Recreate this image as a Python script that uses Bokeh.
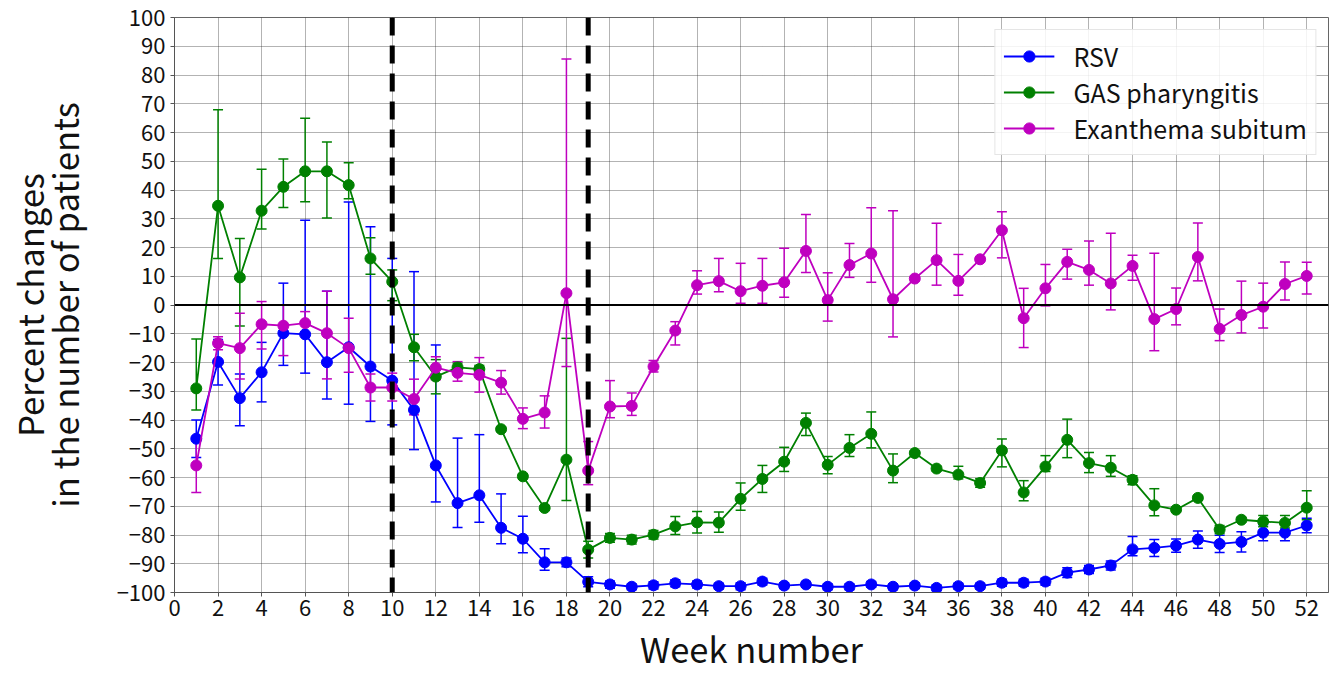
from bokeh.plotting import figure
from bokeh.models import (ColumnDataSource, Whisker, TeeHead, Span, Range1d,
                          FixedTicker, Legend, LegendItem)
from bokeh.embed import file_html
from bokeh.resources import INLINE

FONT = "Noto Sans CJK JP"

weeks = list(range(1, 53))

series_names = ["RSV", "GAS pharyngitis", "Exanthema subitum"]
series_colors = ["#0000ff", "#008000", "#bf00bf"]

rsv = [-46.5, -19.8, -32.4, -23.4, -9.8, -10.2, -19.9, -14.7, -21.4, -26.3,
       -36.5, -55.8, -68.9, -66.2, -77.5, -81.3, -89.5, -89.5, -96.3, -97.2,
       -98.0, -97.5, -96.8, -97.2, -97.8, -97.8, -96.2, -97.6, -97.2, -98.0,
       -98.0, -97.2, -98.0, -97.6, -98.4, -97.8, -97.8, -96.6, -96.6, -96.2,
       -93.1, -92.0, -90.6, -85.0, -84.5, -83.7, -81.6, -83.1, -82.4, -79.2,
       -79.2, -76.7]
rsv_lo = [-53.0, -27.8, -42.0, -33.7, -21.0, -23.7, -32.7, -34.5, -40.5, -41.7,
          -50.3, -68.5, -77.4, -75.6, -83.0, -86.2, -92.3, -91.0, -98.0, -98.5,
          -99.0, -98.8, -98.0, -98.4, -98.8, -99.0, -97.4, -98.6, -98.2, -99.0,
          -99.0, -98.2, -99.0, -98.6, -99.4, -98.8, -98.8, -97.8, -97.8, -97.5,
          -94.8, -93.4, -92.2, -87.2, -87.5, -86.0, -84.6, -86.1, -85.9, -82.0,
          -82.0, -79.2]
rsv_hi = [-40.0, -12.0, -24.0, -13.0, 7.6, 29.5, 4.8, 35.8, 27.2, 16.2,
          11.6, -13.9, -46.3, -45.1, -65.7, -73.5, -84.8, -88.0, -94.5, -96.0,
          -97.0, -96.3, -95.6, -96.0, -96.8, -96.6, -95.0, -96.6, -96.2, -97.0,
          -97.0, -96.2, -97.0, -96.6, -97.4, -96.8, -96.8, -95.4, -95.4, -95.0,
          -91.4, -90.6, -89.0, -80.5, -81.6, -81.4, -78.6, -80.1, -78.9, -76.4,
          -76.4, -74.2]

gas = [-29.0, 34.5, 9.6, 32.8, 41.1, 46.5, 46.5, 41.7, 16.2, 8.1,
       -14.7, -24.9, -21.7, -22.3, -43.2, -59.6, -70.6, -53.8, -85.1, -81.0,
       -81.6, -79.9, -77.0, -75.6, -75.7, -67.4, -60.5, -54.5, -41.0, -55.6,
       -49.7, -44.8, -57.6, -51.5, -56.9, -59.0, -61.9, -50.6, -65.2, -56.2,
       -46.9, -55.0, -56.6, -60.8, -69.7, -71.2, -67.1, -78.1, -74.7, -75.3,
       -75.8, -70.5]
gas_lo = [-36.5, 16.2, -7.3, 26.4, 33.9, 35.9, 30.3, 37.0, 10.7, 1.5,
          -19.4, -30.9, -23.2, -23.5, -44.0, -60.4, -71.4, -68.0, -88.0, -82.5,
          -83.1, -81.4, -79.8, -79.3, -79.0, -71.4, -65.2, -57.9, -45.4, -58.7,
          -52.7, -49.7, -61.8, -52.3, -57.7, -60.5, -63.4, -56.3, -68.1, -57.9,
          -53.1, -58.3, -59.6, -62.5, -73.3, -72.0, -67.9, -79.5, -75.5, -77.1,
          -77.6, -74.7]
gas_hi = [-11.8, 67.9, 23.1, 47.2, 50.8, 65.0, 56.7, 49.5, 23.4, 12.2,
          -10.2, -19.0, -20.2, -21.0, -42.4, -58.8, -69.8, -11.6, -82.2, -79.5,
          -80.1, -78.4, -73.6, -71.8, -72.0, -61.9, -55.8, -49.5, -37.6, -52.7,
          -45.1, -37.2, -51.8, -50.7, -56.1, -56.1, -60.4, -46.6, -61.1, -52.4,
          -39.7, -51.3, -52.4, -59.4, -63.9, -70.4, -66.3, -76.7, -73.9, -73.2,
          -73.2, -64.6]

exa = [-55.8, -13.3, -15.0, -6.7, -7.2, -6.3, -9.8, -15.0, -28.7, -28.7,
       -32.7, -21.8, -23.6, -24.3, -27.0, -39.6, -37.4, 4.1, -57.6, -35.3,
       -35.1, -21.4, -8.9, 6.9, 8.3, 4.8, 6.7, 7.9, 18.8, 1.7,
       13.9, 17.9, 2.0, 9.2, 15.6, 8.4, 15.9, 26.0, -4.6, 5.8,
       15.0, 12.2, 7.5, 13.6, -4.9, -1.4, 16.7, -8.3, -3.5, -0.6,
       7.3, 10.1]
exa_lo = [-65.2, -15.6, -25.7, -15.3, -17.6, -10.7, -25.7, -23.4, -33.4, -33.4,
          -38.2, -26.0, -26.5, -30.3, -31.0, -43.0, -42.8, -21.4, -62.5, -39.2,
          -38.4, -23.3, -13.9, 3.8, 4.6, 0.6, 0.6, 2.7, 11.3, -5.6,
          9.6, 7.9, -11.1, 8.4, 6.9, 3.4, 15.1, 16.4, -14.8, -0.3,
          9.0, 6.9, -1.7, 8.6, -15.9, -6.9, 8.4, -12.4, -9.7, -8.0,
          1.7, 3.8]
exa_hi = [-46.0, -11.0, -2.9, 1.2, 0.0, -2.3, 4.8, -4.6, -24.0, -23.7,
          -25.8, -18.0, -19.7, -18.3, -22.8, -35.8, -31.6, 85.6, -47.5, -26.3,
          -30.6, -19.3, -5.8, 11.9, 16.2, 14.5, 16.2, 19.7, 31.5, 11.2,
          21.4, 33.8, 32.8, 10.0, 28.4, 17.6, 16.7, 32.4, 5.8, 14.1,
          19.4, 22.3, 25.0, 17.3, 18.0, 5.9, 28.5, -1.4, 8.3, 7.6,
          15.0, 14.9]

x_ticks = list(range(0, 54, 2))
y_ticks = list(range(-100, 101, 10))
y_tick_labels = [str(v).replace("-", "\u2212") for v in y_ticks]
event_weeks = [10, 19]

p = figure(width=1339, height=675, output_backend="svg", toolbar_location=None,
           x_range=Range1d(0, 53), y_range=Range1d(-100, 100),
           min_border_left=172, min_border_right=11, min_border_top=17,
           min_border_bottom=82)
p.background_fill_color = "white"
p.border_fill_color = "white"
p.outline_line_color = "#666666"
p.outline_line_width = 1

for ax in (p.xaxis[0], p.yaxis[0]):
    ax.major_label_text_font = FONT
    ax.major_label_text_font_size = "22px"
    ax.major_label_text_color = "#111111"
    ax.axis_label_text_font = FONT
    ax.axis_label_text_font_style = "normal"
    ax.axis_label_text_font_size = "34.5px"
    ax.axis_label_text_color = "#111111"
    ax.axis_line_color = "#555555"
    ax.major_tick_line_color = "#555555"
    ax.major_tick_out = 4
    ax.major_tick_in = 0
    ax.minor_tick_line_color = None

p.xaxis.ticker = FixedTicker(ticks=x_ticks)
p.yaxis.ticker = FixedTicker(ticks=y_ticks)
p.xgrid.ticker = FixedTicker(ticks=x_ticks)
p.ygrid.ticker = FixedTicker(ticks=y_ticks)
p.yaxis.major_label_overrides = dict(zip(y_ticks, y_tick_labels))
p.xaxis.axis_label = "Week number"
p.xaxis.major_label_standoff = 3
p.xaxis.axis_label_standoff = 4
p.yaxis.axis_label = "Percent changes\nin the number of patients"
p.yaxis.axis_label_text_line_height = 0.7
p.yaxis.major_label_standoff = 5
p.yaxis.axis_label_standoff = 25

for g in (p.xgrid[0], p.ygrid[0]):
    g.grid_line_color = "#333333"
    g.grid_line_alpha = 0.75
    g.grid_line_dash = "1 1"
    g.grid_line_width = 1

data = [(rsv, rsv_lo, rsv_hi), (gas, gas_lo, gas_hi), (exa, exa_lo, exa_hi)]
items = []
for (vals, lo, hi), name, col in zip(data, series_names, series_colors):
    src = ColumnDataSource(dict(x=weeks, y=vals, lo=lo, hi=hi))
    w = Whisker(source=src, base="x", lower="lo", upper="hi", dimension="height",
                line_color=col, line_width=1.5,
                upper_head=TeeHead(size=10, line_color=col, line_width=1.5),
                lower_head=TeeHead(size=10, line_color=col, line_width=1.5))
    p.add_layout(w)
    r1 = p.line("x", "y", source=src, line_color=col, line_width=1.8)
    r2 = p.scatter("x", "y", source=src, marker="circle", size=11,
                   fill_color=col, line_color=col)
    items.append(LegendItem(label=name, renderers=[r1, r2]))

p.add_layout(Span(location=0, dimension="width", line_color="black", line_width=2))
for wk in event_weeks:
    p.add_layout(Span(location=wk, dimension="height", line_color="black",
                      line_width=5, line_dash="18 10"))

legend = Legend(items=items, location="top_right")
legend.label_text_font = FONT
legend.label_text_font_size = "25px"
legend.label_text_color = "#111111"
legend.glyph_width = 51
legend.glyph_height = 28
legend.spacing = 0
legend.padding = 8
legend.margin = 12
legend.label_standoff = 19
legend.border_line_color = "#cccccc"
legend.border_line_width = 1
legend.background_fill_alpha = 0.85
p.add_layout(legend)

open("out.html", "w").write(file_html(p, INLINE))
